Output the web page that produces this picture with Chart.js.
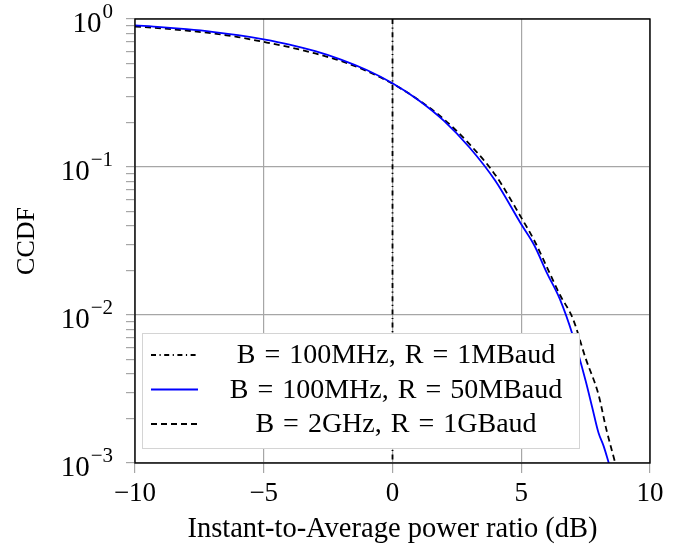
<!DOCTYPE html>
<html>
<head>
<meta charset="utf-8">
<script src="https://cdn.jsdelivr.net/npm/chart.js@4.4.0/dist/chart.umd.min.js"></script>
<style>
  body { margin: 0; background: #fff; }
  #wrap { width: 681px; height: 551px; }
</style>
</head>
<body>
<div id="wrap"><canvas id="ccdfChart" width="681" height="551"></canvas></div>
<script>
// Axis ticks
const xTicks = [-10, -5, 0, 5, 10];
const yDecades = [0.001, 0.01, 0.1, 1];
const yExponents = ['\u22123', '\u22122', '\u22121', '0'];

// Legend labels
const seriesLabels = ['B = 100MHz, R = 1MBaud', 'B = 100MHz, R = 50MBaud', 'B = 2GHz, R = 1GBaud'];

// B = 100MHz, R = 1MBaud : constant envelope, step at 0 dB
const xConst = [0, 0];
const yConst = [1, 0.001];

// B = 100MHz, R = 50MBaud
const xNarrow = [-10, -9, -8, -7, -6, -5, -4, -3, -2, -1, 0, 1, 2, 3, 4, 5, 5.5, 6, 6.5, 7, 7.5, 7.75, 8, 8.2, 8.4];
const yNarrow = [0.905, 0.882, 0.853, 0.819, 0.778, 0.729, 0.672, 0.606, 0.532, 0.452, 0.368, 0.284, 0.205, 0.135, 0.0804, 0.041, 0.0297, 0.0192, 0.0128, 0.0073, 0.0036, 0.0024, 0.0016, 0.0013, 0.001];

// B = 2GHz, R = 1GBaud
const xWide = [-10, -9, -8, -7, -6, -5, -4, -3, -2, -1, 0, 1, 2, 3, 4, 5, 5.5, 6, 6.5, 7, 7.5, 8, 8.3, 8.65];
const yWide = [0.89, 0.865, 0.835, 0.80, 0.755, 0.70, 0.645, 0.585, 0.52, 0.445, 0.365, 0.285, 0.21, 0.142, 0.088, 0.0455, 0.032, 0.021, 0.0137, 0.0095, 0.0051, 0.0029, 0.0017, 0.001];

const serif = "'Liberation Serif', 'Times New Roman', serif";
const gridGray = '#a6a6a6';

function toPoints(xs, ys) {
  return xs.map((x, i) => ({ x: x, y: ys[i] }));
}

// y labels as 10 with a raised exponent
const yLabelPlugin = {
  id: 'powerLabels',
  afterDraw(chart) {
    const ctx = chart.ctx;
    const scale = chart.scales.y;
    const right = scale.right - 22;
    ctx.save();
    ctx.fillStyle = '#000';
    ctx.textBaseline = 'alphabetic';
    yDecades.forEach((d, i) => {
      const y = scale.getPixelForValue(d);
      ctx.font = '21px ' + serif;
      const ew = ctx.measureText(yExponents[i]).width;
      ctx.textAlign = 'left';
      ctx.fillText(yExponents[i], right - ew, y - 1);
      ctx.font = '29px ' + serif;
      ctx.textAlign = 'right';
      ctx.fillText('10', right - ew - 1, y + 13);
    });
    ctx.restore();
  }
};

// draws the black frame and the boxed legend inside the plot
const framePlugin = {
  id: 'frameAndLegend',
  afterDatasetsDraw(chart) {
    const ctx = chart.ctx;
    const a = chart.chartArea;
    ctx.save();
    ctx.strokeStyle = '#000';
    ctx.lineWidth = 1.4;
    ctx.setLineDash([]);
    ctx.strokeRect(a.left, a.top, a.right - a.left, a.bottom - a.top);

    const left = a.left + 7, top = a.bottom - 130;
    const w = 437, h = 115;
    ctx.fillStyle = '#fff';
    ctx.fillRect(left, top, w, h);
    ctx.strokeStyle = '#d4d4d4';
    ctx.lineWidth = 1;
    ctx.strokeRect(left + 0.5, top + 0.5, w, h);

    ctx.font = '28px ' + serif;
    if ('wordSpacing' in ctx) ctx.wordSpacing = '2px';
    ctx.textAlign = 'center';
    ctx.textBaseline = 'middle';
    chart.data.datasets.forEach((ds, i) => {
      const y = top + 22 + i * 34.5;
      ctx.beginPath();
      ctx.strokeStyle = ds.borderColor;
      ctx.lineWidth = ds.borderWidth;
      ctx.setLineDash(ds.borderDash || []);
      ctx.moveTo(left + 9, y);
      ctx.lineTo(left + 56, y);
      ctx.stroke();
      ctx.setLineDash([]);
      ctx.fillStyle = '#000';
      ctx.fillText(ds.label, left + 254, y + 1);
    });
    ctx.restore();
  }
};

const ctx = document.getElementById('ccdfChart').getContext('2d');
const ccdfChart = new Chart(ctx, {
  type: 'line',
  data: {
    datasets: [
      { label: seriesLabels[0], data: toPoints(xConst, yConst), borderColor: '#000', borderWidth: 1.8, borderDash: [5, 3.5, 1.2, 3.5], pointRadius: 0 },
      { label: seriesLabels[1], data: toPoints(xNarrow, yNarrow), borderColor: '#0000ff', borderWidth: 1.8, pointRadius: 0, cubicInterpolationMode: 'monotone' },
      { label: seriesLabels[2], data: toPoints(xWide, yWide), borderColor: '#000', borderWidth: 1.8, borderDash: [6, 4], pointRadius: 0, cubicInterpolationMode: 'monotone' }
    ]
  },
  options: {
    responsive: false,
    animation: false,
    layout: { padding: { top: 19, right: 31, left: 0, bottom: 0 } },
    plugins: { legend: { display: false }, tooltip: { enabled: false } },
    scales: {
      x: {
        type: 'linear',
        min: -10, max: 10,
        afterBuildTicks: scale => { scale.ticks = xTicks.map(v => ({ value: v })); },
        afterFit: scale => { scale.height = 88; },
        ticks: {
          color: '#000',
          font: { family: serif, size: 27 },
          padding: 5,
          callback: v => (v < 0 ? '\u2212' + Math.abs(v) : String(v))
        },
        grid: { color: gridGray, lineWidth: 1.2, tickLength: 10, tickColor: gridGray },
        border: { display: false },
        title: {
          display: true,
          text: 'Instant-to-Average power ratio (dB)',
          color: '#000',
          font: { family: serif, size: 28.5 },
          padding: { top: 0, bottom: 4 }
        }
      },
      y: {
        type: 'logarithmic',
        min: 0.001, max: 1,
        afterBuildTicks: scale => {
          const ticks = [];
          yDecades.forEach(d => {
            if (d === 1) { ticks.push({ value: 1, major: true }); return; }
            for (let k = 1; k <= 9; k++) ticks.push({ value: Number((d * k).toPrecision(6)), major: k === 1 });
          });
          scale.ticks = ticks;
        },
        afterFit: scale => { scale.width = 135; },
        ticks: {
          autoSkip: false,
          color: '#000',
          font: { family: serif, size: 25 },
          callback: () => ''
        },
        grid: {
          color: c => (c.tick && c.tick.major ? gridGray : 'rgba(0,0,0,0)'),
          lineWidth: 1.2,
          tickLength: 9,
          tickColor: gridGray
        },
        border: { display: false },
        title: {
          display: true,
          text: 'CCDF',
          color: '#000',
          font: { family: serif, size: 26 },
          padding: { top: 12, bottom: 0 }
        }
      }
    }
  },
  plugins: [framePlugin, yLabelPlugin]
});
</script>
</body>
</html>
